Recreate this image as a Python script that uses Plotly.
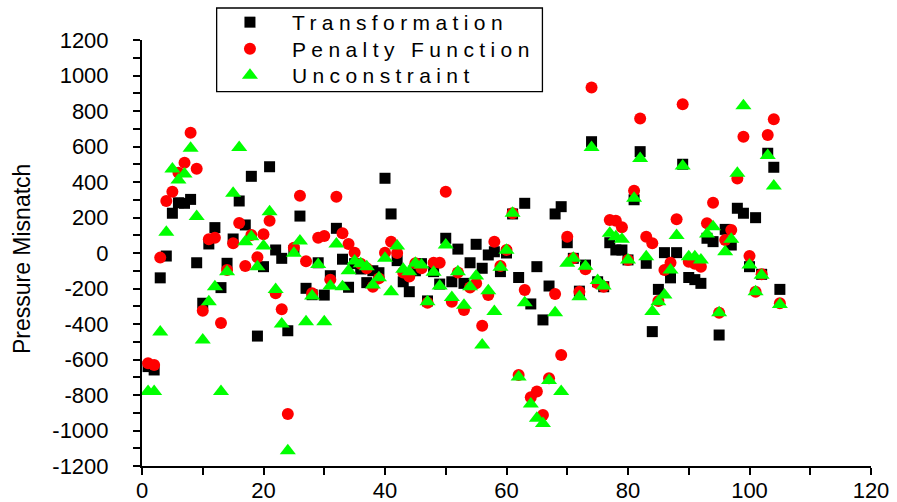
import plotly.graph_objects as go

x_index = list(range(1, 106))

transformation = [
    -640, -659, -140, -17, 224, 283, 280, 302, -55, -283,
    51, 143, -195, -58, 79, 293, 158, 432, -468, -77,
    486, 17, -30, -438, 15, 208, -199, -235, -55, -237,
    -128, 139, -35, -193, -60, -90, -167, -100, -111, 421,
    220, -43, -162, -218, -100, -60, -270, -105, -175, 83,
    -162, 22, -171, -55, 49, -86, -11, 7, -105, 0,
    220, -138, 280, -287, -77, -377, -186, 220, 261, 58,
    -30, -215, -68, 627, -162, -190, 58, 17, 17, -39,
    300, 571, -58, -443, -205, 2, -140, 2, 500, -138,
    -150, -171, 83, 64, -462, 133, 45, 252, 224, -77,
    199, -120, 562, 483, -205,
]

penalty_function = [
    -621, -631, -26, 293, 345, 452, 509, 678, 475, -325,
    77, 86, -395, -96, 55, 169, -73, 102, -24, 105,
    182, -227, -317, -907, 30, 323, -47, -227, 86, 96,
    -150, 317, 111, 51, 2, -60, -86, -190, -143, 2,
    64, 0, -110, -133, -58, -86, -280, -55, -55, 345,
    -274, -110, -321, -195, -171, -410, -237, 64, -73, 17,
    224, -687, -208, -813, -780, -913, -706, -231, -575, 92,
    -30, -218, -92, 933, -170, -190, 186, 182, 145, -39,
    351, 758, 92, 55, -270, -96, -55, 190, 838, -49,
    -60, -77, 167, 283, -336, 73, 130, 420, 655, -17,
    -218, -120, 665, 753, -283,
]

unconstraint = [
    -780, -780, -445, 117, 473, 411, 445, 590, 205, -490,
    -275, -190, -780, -105, 336, 595, 64, 92, -77, 39,
    233, -205, -400, -1114, -2, 68, -387, -242, -65, -387,
    -186, 51, -190, -100, -45, -60, -77, -180, -140, -30,
    -218, 39, -92, -105, -58, -68, -274, -108, -186, 45,
    -250, -105, -295, -190, -130, -518, -212, -330, -80, 15,
    224, -698, -280, -850, -931, -960, -719, -336, -780, -58,
    -30, -246, -75, 595, -155, -186, 111, 92, 77, -39,
    308, 533, -21, -330, -274, -237, -96, 98, 490, -21,
    -21, -39, 107, 148, -336, 7, 77, 449, 830, -68,
    -218, -125, 550, 377, -290,
]

series_names = ["Transformation", "Penalty Function", "Unconstraint"]
y_title = "Pressure Misnatch"

y_tick_vals = list(range(-1200, 1201, 200))
y_tick_text = [str(v).replace("\u2212", "-") for v in y_tick_vals]
x_tick_vals = list(range(0, 121, 20))
x_tick_text = [str(v) for v in x_tick_vals]

TICK_FONT = dict(family="Liberation Sans, Arial, sans-serif", size=22, color="black")

fig = go.Figure()
fig.add_trace(go.Scatter(
    x=x_index, y=transformation, mode="markers", name=series_names[0],
    marker=dict(symbol="square", size=11, color="#000000", line=dict(width=0)),
))
fig.add_trace(go.Scatter(
    x=x_index, y=penalty_function, mode="markers", name=series_names[1],
    marker=dict(symbol="circle", size=12, color="#FF0000", line=dict(width=0)),
))
fig.add_trace(go.Scatter(
    x=x_index, y=unconstraint, mode="markers", name=series_names[2],
    marker=dict(symbol="triangle-up", size=14, color="#00FF00", line=dict(width=0)),
))

W, H = 897, 502
L, R, T, B = 142, 25.5, 40, 36
pw, ph = W - L - R, H - T - B

def px_x(p):
    return (p - L) / pw

def px_y(p):
    return (H - B - p) / ph

fig.update_layout(
    width=W, height=H,
    margin=dict(l=L, r=R, t=T, b=B, pad=0, autoexpand=False),
    paper_bgcolor="white", plot_bgcolor="white",
    showlegend=True,
    legend=dict(
        x=px_x(208), y=px_y(2), xanchor="left", yanchor="top",
        bgcolor="rgba(255,255,255,0)", borderwidth=0,
        font=dict(family="Liberation Sans, Arial, sans-serif", size=21, color="black"),
        itemwidth=74, tracegroupgap=0,
    ),
    shapes=[dict(
        type="rect", xref="paper", yref="paper",
        x0=px_x(216.7), x1=px_x(542.7), y0=px_y(91.7), y1=px_y(8),
        line=dict(color="black", width=1.3), fillcolor="rgba(0,0,0,0)", layer="above",
    )],
    annotations=[dict(
        text=y_title, xref="paper", yref="paper",
        x=px_x(22), y=px_y(259), xanchor="center", yanchor="middle",
        textangle=-90, showarrow=False,
        font=dict(family="Liberation Sans, Arial, sans-serif", size=23, color="black"),
    )],
)

fig.update_xaxes(
    range=[0, 120], tickmode="array", tickvals=x_tick_vals, ticktext=x_tick_text,
    showgrid=False, zeroline=False, showline=True, linecolor="black", linewidth=2,
    ticks="outside", ticklen=7, tickwidth=1.5, tickcolor="black",
    minor=dict(tickmode="linear", tick0=0, dtick=10, ticks="outside", ticklen=7,
               tickwidth=1.5, tickcolor="black"),
    tickfont=TICK_FONT, ticklabelstandoff=-3, mirror=False, automargin=False,
)
fig.update_yaxes(
    range=[-1200, 1200], tickmode="array", tickvals=y_tick_vals, ticktext=y_tick_text,
    showgrid=False, zeroline=False, showline=True, linecolor="black", linewidth=2,
    ticks="outside", ticklen=7, tickwidth=1.5, tickcolor="black",
    minor=dict(tickmode="linear", tick0=0, dtick=100, ticks="outside", ticklen=7,
               tickwidth=1.5, tickcolor="black"),
    tickfont=TICK_FONT, ticklabelstandoff=20, mirror=False, automargin=False,
)

post = """
var gd = document.getElementById('{plot_id}');
function fixLegend(){
  gd.querySelectorAll('.legend .scrollbox').forEach(function(s){ s.removeAttribute('clip-path'); });
  gd.querySelectorAll('.legend').forEach(function(s){ s.removeAttribute('clip-path'); });
  gd.querySelectorAll('.legendtext').forEach(function(t){ t.style.letterSpacing = '5.4px'; });
  var tr = gd.querySelectorAll('.legend .traces');
  if (tr.length) {
    var m0 = /translate\\(\\s*([-\\d.e]+)[ ,]+([-\\d.e]+)\\s*\\)/.exec(tr[0].getAttribute('transform') || '');
    if (m0) {
      var base = parseFloat(m0[2]);
      for (var k = 1; k < tr.length; k++) {
        var m = /translate\\(\\s*([-\\d.e]+)[ ,]+([-\\d.e]+)\\s*\\)/.exec(tr[k].getAttribute('transform') || '');
        if (m) tr[k].setAttribute('transform', 'translate(' + m[1] + ',' + (base + k * 26.5) + ')');
      }
    }
  }
}
fixLegend();
gd.on('plotly_afterplot', fixLegend);
setTimeout(fixLegend, 50);
"""

fig.write_html("out.html", post_script=post)
